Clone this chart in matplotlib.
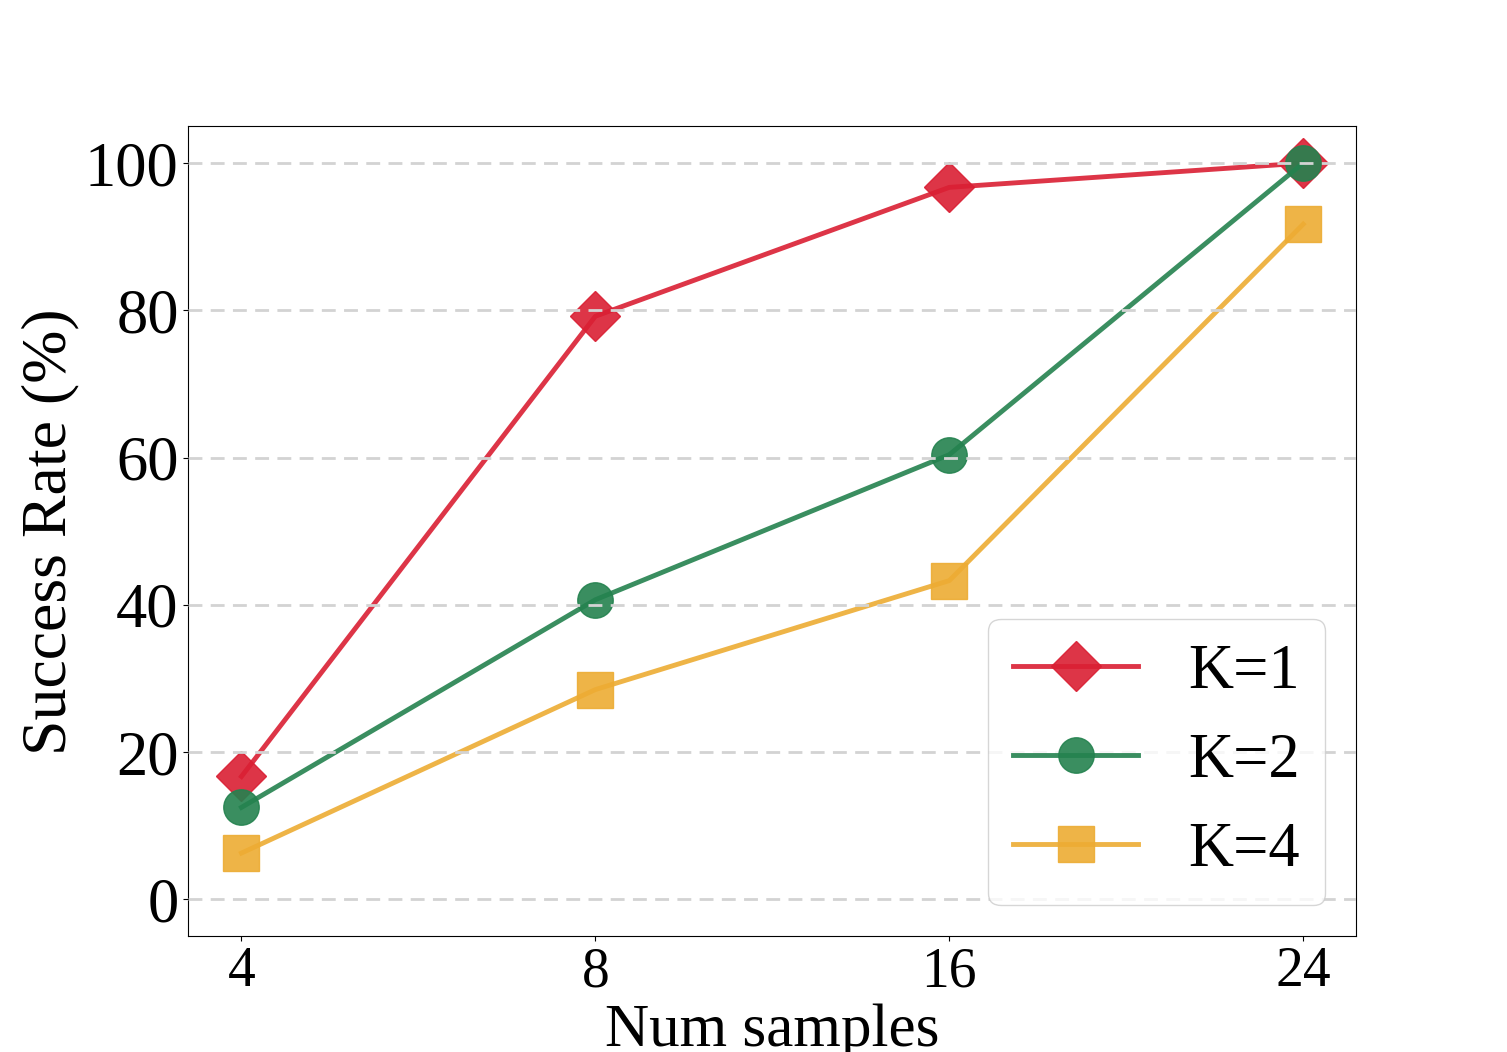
import numpy as np
import matplotlib
matplotlib.use("Agg")
import matplotlib.pyplot as plt

plt.rcParams['font.family'] = ['Liberation Serif', 'DejaVu Serif']

num_samples = ['4', '8', '16', '24']
k1 = [16.7, 79.2, 96.7, 100.0]
k2 = [12.5, 40.7, 60.4, 100.0]
k4 = [6.3, 28.5, 43.3, 91.7]

labels = ['K=1', 'K=2', 'K=4']
colors = ['#DA1F33', '#24824F', '#EDAC33']
markers = ['D', 'o', 's']

x = np.arange(len(num_samples))

fig, ax = plt.subplots(figsize=(15.07, 10.52), dpi=100)
for vals, lab, c, m in zip([k1, k2, k4], labels, colors, markers):
    ax.plot(x, vals, marker=m, color=c, label=lab, linewidth=3.5,
            markersize=25.5, alpha=0.9)

ax.set_xticks(x)
ax.set_xticklabels(num_samples)
ax.set_ylim(-5, 105)
ax.tick_params(axis='x', labelsize=40)
ax.tick_params(axis='y', labelsize=45)
ax.set_xlabel('Num samples', fontsize=44)
ax.set_ylabel('Success Rate (%)', fontsize=46)
ax.set_axisbelow(False)
ax.grid(axis='y', color='#D3D3D3', linestyle=(0, (5, 3)), linewidth=2)
ax.legend(loc='lower right', fontsize=45)

fig.savefig('out.png')
